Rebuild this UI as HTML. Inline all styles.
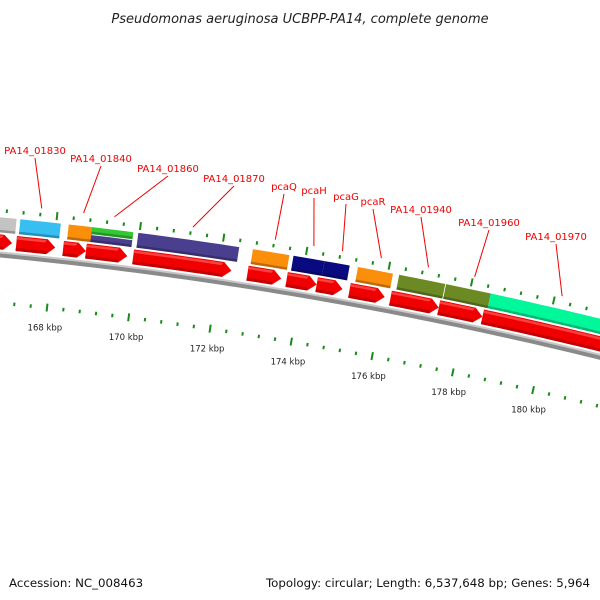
<!DOCTYPE html>
<html><head><meta charset="utf-8"><style>
html,body{margin:0;padding:0;background:#fff;}
svg{display:block;}
text{font-family:"DejaVu Sans","Liberation Sans",sans-serif;}
</style></head><body>
<svg id="chart" width="600" height="600" viewBox="0 0 600 600" xmlns="http://www.w3.org/2000/svg">
<rect width="600" height="600" fill="#fff"/>
<text x="300" y="23" text-anchor="middle" font-size="13" font-style="italic" fill="#222">Pseudomonas aeruginosa UCBPP-PA14, complete genome</text>
<g id="rings"></g>
<text x="9" y="587" font-size="11.8" fill="#111">Accession: NC_008463</text>
<text x="590" y="587" text-anchor="end" font-size="11.8" fill="#111">Topology: circular; Length: 6,537,648 bp; Genes: 5,964</text>
</svg>
<script>
// data (kbp)
const fwdStart = [166.5, 167.10, 168.23, 168.78, 169.92, 172.69, 173.64, 174.37, 175.17, 176.17, 177.35, 178.42];
const fwdEnd   = [167.00, 168.04, 168.78, 169.78, 172.30, 173.51, 174.37, 175.00, 176.03, 177.35, 178.42, 182.5];
const featStart = [166.5, 167.14, 168.30, 168.86, 168.86, 169.97, 172.73, 173.71, 174.46, 175.27, 176.27, 177.41, 178.50];
const featEnd   = [167.05, 168.11, 168.88, 169.85, 169.85, 172.40, 173.61, 174.46, 175.07, 176.12, 177.39, 178.50, 182.5];
const featLayer = ["full","full","full","top","bottom","full","full","full","full","full","full","full","full"];
const featColor = ["#c3c3c3","#36bff0","#fb8f0c","#33c733","#4a3f8e","#4a3f8e","#fb8f0c","#0a0a80","#0a0a80","#fb8f0c","#6b8a24","#6b8a24","#00f79a"];
const labelNames = ["PA14_01830","PA14_01840","PA14_01860","PA14_01870","pcaQ","pcaH","pcaG","pcaR","PA14_01940","PA14_01960","PA14_01970"];
const labelAnchorKbp = [167.62, 168.62, 169.36, 171.24, 173.22, 174.15, 174.84, 175.78, 176.92, 178.04, 180.17];
const tickLabels = ["168 kbp","170 kbp","172 kbp","174 kbp","176 kbp","178 kbp","180 kbp"];
const tickKbp = [168,170,172,174,176,178,180];
// layout
const labelX = [35,101,168,234,284,314,346,373,421,489,556];
const labelY = [154,162,172,182,190,194,200,205,213,226,240];

const CX=-404, CY=4436;
function ang(k){return (6.235+(k-168)*0.5671)*Math.PI/180;}
function P(r,k){const a=ang(k);return [CX+r*Math.sin(a), CY-r*Math.cos(a)];}
function pt(p){return p[0].toFixed(2)+","+p[1].toFixed(2);}
function arcPts(r,k0,k1){const n=Math.max(2,Math.ceil((k1-k0)*4));const out=[];for(let i=0;i<=n;i++)out.push(P(r,k0+(k1-k0)*i/n));return out;}
function band(r0,r1,k0,k1){const o=arcPts(r1,k0,k1),i=arcPts(r0,k0,k1).reverse();return "M"+o.concat(i).map(pt).join("L")+"Z";}
const g=document.getElementById('rings');
const NS="http://www.w3.org/2000/svg";
function mk(tag,attrs){const e=document.createElementNS(NS,tag);for(const k in attrs)e.setAttribute(k,attrs[k]);g.appendChild(e);return e;}

// backbone
let bb=mk('path',{d:band(4198,4203,165,183),fill:'#8a8a8a'});


let bb2=mk('path',{d:band(4202,4204,165,183),fill:'#c8c8c8'});



// forward CDS arrows
for(let i=0;i<fwdStart.length;i++){
  const r0=4206,r1=4221,rm=(r0+r1)/2,k0=fwdStart[i],k1=fwdEnd[i];
  const head=Math.min(0.2,(k1-k0)*0.4),kh=k1-head;
  const o=arcPts(r1,k0,kh),inn=arcPts(r0,k0,kh).reverse();
  const d="M"+o.map(pt).join("L")+"L"+pt(P(rm,k1))+"L"+inn.map(pt).join("L")+"Z";
  const e=mk('path',{d:d,fill:'#f00000'});
  
  
  const hi=arcPts(r1-1,k0,kh-0.02),hi2=arcPts(r1-3.5,k0,kh-0.06).reverse();
  const s=mk('path',{d:"M"+hi.concat(hi2).map(pt).join("L")+"Z",fill:'#ff5050',opacity:'0.8'});
  
  
  const sh=mk('path',{d:band(r0,r0+3,k0,kh),fill:'#b00000',opacity:'0.7'});
  
  
}
// features
for(let i=0;i<featStart.length;i++){
  let r0=4223,r1=4238;
  if(featLayer[i]==='top'){r0=4231;}
  if(featLayer[i]==='bottom'){r1=4230;}
  const e=mk('path',{d:band(r0,r1,featStart[i],featEnd[i]),fill:featColor[i]});
  
  
  const sh=mk('path',{d:band(r0,r0+2.5,featStart[i],featEnd[i]),fill:'#000',opacity:'0.25'});
  
  
}
// ticks
for(let n=0;n<=45;n++){
  const k=164+n*0.4, major=(n%5===0);
  const oa=major?[4241,4249]:[4243,4246.5];
  const ia=major?[4149,4157]:[4151,4154.5];
  const t1=mk('line',{x1:P(oa[0],k)[0],y1:P(oa[0],k)[1],x2:P(oa[1],k)[0],y2:P(oa[1],k)[1],stroke:'#1a8a1a','stroke-width':2});
  
  
  const t2=mk('line',{x1:P(ia[0],k)[0],y1:P(ia[0],k)[1],x2:P(ia[1],k)[0],y2:P(ia[1],k)[1],stroke:'#1a8a1a','stroke-width':2});
  
  
}
for(let i=0;i<tickKbp.length;i++){
  const p=P(4133,tickKbp[i]);
  const t=mk('text',{x:p[0],y:p[1]+3,'text-anchor':'middle','font-size':'8.5',fill:'#222'});
  t.textContent=tickLabels[i];
  
  
}
// labels
for(let i=0;i<labelNames.length;i++){
  const p=P(4251,labelAnchorKbp[i]);
  const l=mk('line',{x1:labelX[i],y1:labelY[i]+4,x2:p[0],y2:p[1],stroke:'#f00000','stroke-width':1});
  
  
  const t=mk('text',{x:labelX[i],y:labelY[i],'text-anchor':'middle','font-size':'10',fill:'#f00000'});
  t.textContent=labelNames[i];
  
  
}
</script>
</body></html>
